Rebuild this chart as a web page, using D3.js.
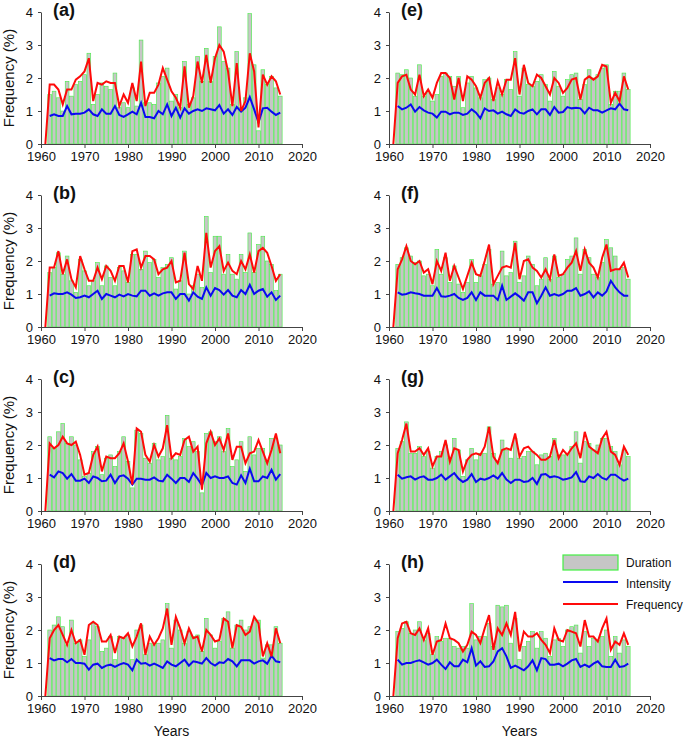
<!DOCTYPE html>
<html lang="en">
    <head>
        <meta charset="utf-8">
        <title>Duration, intensity and frequency</title>
        <script src="https://d3js.org/d3.v7.min.js"></script>
        <style type="text/css">
            body { margin: 0; background: #fff; }
            svg text { font-family: "Liberation Sans", Arial, sans-serif; fill: #111; }
            .axis path, .axis line { stroke: #444; }
            .axis text { font-size: 13px; }
        </style>
    </head>
    <body>
        <script type="text/javascript">

            const w = 685;
            const h = 741;

            // years of the bars / blue line, and of the red line (starts one year earlier at 0)
            const years = d3.range(1962, 2016);
            const freqYears = d3.range(1961, 2016);
            const xTicks = [1960, 1970, 1980, 1990, 2000, 2010, 2020];
            const yTicks = [0, 1, 2, 3, 4];
            const panelLabels = ["(a)", "(b)", "(c)", "(d)", "(e)", "(f)", "(g)", "(h)"];
            const legendLabels = ["Duration", "Intensity", "Frequency"];

            // (a)
            const durationA = [1.5,1.6,1.4,1.0,1.9,1.45,1.8,1.9,2.1,2.75,1.2,1.5,1.85,1.75,1.65,2.15,1.1,1.25,1.1,1.7,1.15,3.15,1.25,1.25,1.2,1.85,2.05,2.3,1.3,1.5,1.1,2.5,1.2,1.4,2.65,1.9,2.9,1.9,2.65,3.55,2.5,2.3,1.2,2.8,1.1,1.4,3.95,2.4,0.4,2.25,1.8,2.05,1.7,1.45];
            const intensityA = [0.85,0.9,0.85,0.85,1.15,0.9,0.92,0.92,0.95,1.05,0.9,0.85,1.05,0.92,0.92,1.15,0.88,0.82,0.9,0.98,0.9,1.25,0.82,0.82,0.78,1.0,0.9,1.2,0.85,1.1,0.8,1.08,0.92,1.0,1.05,1.0,1.08,1.05,1.02,1.18,0.92,1.05,0.88,1.12,0.98,1.1,1.42,1.05,0.65,1.08,1.1,0.98,0.88,0.95];
            const frequencyA = [0,1.8,1.8,1.65,1.2,1.65,1.65,1.95,2.05,2.2,2.6,1.3,1.85,1.8,1.9,1.85,1.85,1.15,1.5,1.25,1.85,1.3,2.5,1.15,1.55,1.55,1.8,2.3,1.95,1.6,1.4,1.1,2.35,1.1,1.45,2.5,1.85,2.7,1.85,2.6,3.0,2.8,2.2,1.15,2.45,1.0,1.3,2.75,2.2,0.5,2.1,1.8,2.05,1.9,1.5];

            // (b)
            const durationB = [1.65,1.8,2.25,1.6,2.15,1.4,1.05,2.05,1.7,1.25,1.4,1.95,1.25,1.85,1.5,1.25,1.8,1.7,1.35,2.2,2.2,1.75,2.3,1.95,2.05,1.5,1.8,1.9,2.1,1.15,1.4,2.3,1.0,1.25,1.6,1.2,3.35,1.65,2.75,2.75,1.6,2.2,1.6,1.45,2.2,1.65,2.85,1.65,2.5,2.75,2.0,1.9,1.1,1.6];
            const intensityB = [0.95,1.02,1.0,1.0,1.05,0.98,0.88,0.9,0.95,0.9,1.0,1.1,0.85,1.0,0.95,0.9,0.98,0.93,1.0,0.95,0.93,1.1,1.1,0.95,1.02,0.95,1.02,1.05,1.05,0.85,1.0,1.0,0.8,1.05,0.92,0.85,1.2,0.95,1.18,1.12,0.98,1.12,0.95,0.9,1.12,1.0,1.28,1.0,1.1,1.15,0.92,1.05,0.82,0.95];
            const frequencyB = [0,1.8,1.8,2.3,1.6,2.05,1.45,1.2,2.15,1.75,1.4,1.4,1.8,1.45,1.85,1.7,1.4,1.85,1.85,1.35,2.3,2.35,1.8,2.15,2.15,2.05,1.6,1.75,1.8,2.0,1.35,1.4,2.25,1.3,1.15,1.85,1.4,2.85,1.8,2.3,2.45,1.7,1.95,1.7,1.6,2.0,1.75,2.2,1.65,2.3,2.4,2.25,1.85,1.4,1.6];

            // (c)
            const durationC = [2.25,1.9,2.4,2.65,2.05,2.25,2.0,1.55,1.05,1.15,1.8,1.95,1.1,1.6,1.7,1.35,1.8,2.25,1.5,0.7,2.45,2.35,1.6,1.45,2.05,1.55,1.65,2.9,1.6,1.55,1.65,2.2,1.95,2.1,1.8,0.55,2.35,2.4,2.1,2.25,1.8,2.5,1.35,1.55,2.1,1.2,2.25,1.7,1.9,1.9,1.5,2.2,2.2,2.0];
            const intensityC = [1.1,1.02,1.2,1.15,0.98,1.12,0.92,0.92,0.98,0.85,1.05,1.0,0.9,0.92,1.1,0.85,1.05,1.08,0.98,0.8,0.98,0.98,0.95,0.95,1.02,0.92,0.9,1.1,0.98,0.85,1.0,1.0,0.88,1.15,0.98,0.78,1.15,1.0,1.05,1.0,1.0,1.05,0.85,0.8,1.08,0.85,1.28,0.9,0.9,1.05,1.0,1.25,0.95,1.12];
            const frequencyC = [0,2.05,1.9,2.0,2.25,2.05,2.0,2.1,1.7,1.1,1.15,1.7,1.95,1.2,1.65,1.6,1.6,1.75,2.05,1.5,0.8,2.5,2.4,1.7,1.5,2.0,1.65,1.9,2.6,1.6,1.75,1.7,2.15,2.25,1.8,1.95,0.65,2.05,2.4,2.0,2.2,1.85,2.35,1.55,1.95,1.95,1.45,1.75,1.8,2.15,1.8,1.45,1.85,2.35,1.75];

            // (d)
            const durationD = [2.0,2.15,2.4,2.1,1.55,2.3,1.6,1.7,1.2,1.7,2.2,2.1,1.35,1.45,1.8,1.1,1.8,1.75,1.85,1.1,2.0,2.15,1.25,1.6,1.55,1.6,1.7,2.8,1.45,2.3,2.0,1.6,1.95,1.8,1.85,1.35,2.35,1.85,1.45,1.65,2.35,2.55,1.45,2.15,2.3,2.0,2.1,2.3,2.3,1.15,1.55,1.55,2.1,1.6];
            const intensityD = [1.15,1.08,1.12,1.12,1.02,1.12,1.0,1.0,0.98,0.8,0.95,0.98,0.85,0.92,0.95,0.88,0.95,1.0,0.95,0.78,1.1,0.98,1.0,0.92,0.98,0.92,0.85,1.05,0.95,0.9,1.0,1.1,0.92,1.05,1.02,0.98,1.15,1.0,0.92,1.02,1.0,1.12,1.05,0.9,1.08,1.08,1.08,0.98,1.05,1.08,0.98,1.22,1.05,1.02];
            const frequencyD = [0,1.75,2.0,2.15,1.85,1.55,2.0,1.6,1.7,1.25,2.15,2.25,2.15,1.65,1.65,1.85,1.3,1.8,1.75,1.9,1.5,1.8,2.2,1.25,1.8,1.55,1.75,2.05,2.65,1.55,2.4,2.05,1.6,2.05,1.75,1.8,1.35,2.0,1.85,1.65,1.7,2.35,2.25,1.45,2.15,2.1,1.85,1.95,2.4,2.2,1.2,1.6,1.2,2.05,1.6];

            // (e)
            const durationE = [2.15,2.1,2.25,2.0,1.45,2.4,1.45,1.55,1.3,1.5,2.05,2.15,2.05,1.75,2.05,1.1,1.85,2.05,1.7,1.4,1.95,2.0,1.35,1.7,1.5,1.95,1.65,2.8,1.45,2.3,1.8,1.75,1.9,2.1,1.8,1.3,2.2,1.75,1.45,1.95,2.1,2.15,1.35,1.8,2.25,2.0,2.1,2.3,2.4,1.2,1.6,1.6,2.15,1.65];
            const intensityE = [1.15,1.05,1.1,1.2,0.98,1.12,1.02,0.95,0.92,0.8,0.98,0.98,0.9,0.95,0.95,0.88,0.92,1.05,0.95,0.78,1.08,1.0,1.02,0.92,0.98,0.9,0.85,1.05,0.95,0.92,1.0,1.05,0.9,1.05,1.05,0.88,1.12,0.95,0.97,1.12,1.08,1.1,1.08,0.93,1.1,1.02,1.02,0.95,1.02,1.08,1.05,1.22,1.05,1.02];
            const frequencyE = [0,1.85,2.05,2.1,1.65,1.5,2.1,1.45,1.65,1.4,1.85,2.15,2.15,2.0,1.35,2.0,1.3,2.05,1.95,1.75,1.4,1.85,2.0,1.3,1.9,1.5,1.95,1.95,2.6,1.5,2.4,1.85,1.75,2.1,2.0,1.75,1.5,2.0,1.85,1.55,1.7,1.95,2.0,1.35,1.95,2.05,1.95,2.05,2.4,2.35,1.25,1.55,1.3,2.05,1.65];

            // (f)
            const durationF = [1.9,2.1,2.4,2.15,1.95,2.0,1.55,1.6,1.25,2.35,1.6,2.1,1.35,1.85,1.3,1.05,1.35,2.05,1.35,1.55,1.9,2.35,1.3,1.35,2.3,1.55,1.65,2.6,1.35,1.55,2.15,1.9,1.25,1.45,2.1,1.45,2.15,1.5,1.6,2.05,2.15,2.7,1.6,2.35,2.1,1.6,1.5,1.95,2.65,2.4,2.15,1.75,1.8,1.45];
            const intensityF = [1.05,0.98,1.0,1.05,1.02,1.0,0.95,0.95,0.95,1.18,0.93,0.92,0.95,1.0,0.88,0.82,0.88,1.05,0.82,1.05,0.95,0.95,0.95,0.82,1.25,0.82,0.92,1.02,0.92,0.8,1.05,1.05,0.72,0.95,1.2,0.95,1.0,0.95,1.0,1.1,1.1,1.18,0.95,1.0,1.08,0.9,1.05,0.95,1.08,1.4,1.2,1.05,0.95,0.95];
            const frequencyF = [0,1.75,2.05,2.45,2.0,1.9,2.0,1.65,1.75,1.3,2.0,1.7,2.25,1.4,1.85,1.5,1.15,1.55,1.95,1.6,1.55,2.0,2.5,1.3,1.55,1.8,1.85,1.8,2.55,1.45,2.0,2.05,1.8,1.7,1.5,1.75,1.45,2.2,1.55,1.6,1.8,1.95,2.3,1.7,2.35,1.95,1.8,1.5,2.1,2.5,1.7,1.75,1.75,1.95,1.5];

            // (g)
            const durationG = [1.9,2.1,2.7,1.75,1.75,1.95,1.65,1.8,1.3,1.65,1.8,2.0,1.6,2.2,1.85,1.05,1.55,1.9,1.55,1.75,1.75,2.55,1.75,1.5,2.15,1.85,1.6,2.2,1.6,1.65,1.8,1.8,1.4,1.7,1.75,1.65,2.2,1.7,1.7,1.75,1.95,2.4,1.45,2.1,2.05,1.85,2.0,2.2,2.2,1.95,1.8,1.4,1.85,1.65];
            const intensityG = [1.1,0.98,1.02,1.05,0.95,1.02,1.05,0.95,0.95,1.0,1.1,0.95,1.05,1.15,0.98,0.88,0.95,1.12,0.88,0.98,0.95,1.0,1.08,0.98,1.15,0.95,0.85,0.95,0.95,0.88,0.9,1.0,0.82,1.1,1.12,1.02,1.05,1.02,0.95,0.98,1.02,1.18,0.9,0.88,1.05,1.0,1.12,1.0,0.95,1.1,1.1,1.0,0.92,0.98];
            const frequencyG = [0,1.75,2.15,2.65,1.8,1.8,1.9,1.7,1.9,1.35,1.65,1.65,2.15,1.5,1.9,1.85,1.2,1.55,1.7,1.75,1.7,1.95,2.55,1.65,1.45,1.85,1.9,1.85,2.35,1.65,1.9,1.95,1.8,1.7,1.55,1.55,1.65,2.15,1.6,1.85,1.7,1.9,2.05,1.6,2.4,1.95,1.85,1.75,2.2,2.4,1.8,1.7,1.4,1.95,1.7];

            // (h)
            const durationH = [1.95,2.05,2.25,1.9,2.0,2.25,1.7,1.9,1.25,1.8,1.65,1.75,1.75,1.5,1.45,1.5,1.45,2.8,1.7,1.8,1.8,2.2,1.5,2.75,2.7,2.75,1.6,2.35,1.1,1.5,1.65,1.95,1.45,1.95,1.75,1.2,1.7,1.75,1.5,2.0,2.1,2.15,1.3,1.95,1.5,1.75,1.7,1.8,2.0,1.2,1.8,1.3,1.7,1.5];
            const intensityH = [1.1,0.95,1.0,1.0,1.05,1.08,1.02,0.95,1.0,1.1,0.95,0.82,1.02,0.9,0.9,1.1,1.02,1.45,0.92,1.05,0.88,0.9,1.05,1.35,1.45,1.2,0.85,0.92,0.85,0.78,0.9,1.08,0.78,1.15,1.12,0.95,0.95,0.98,0.9,0.98,1.08,1.12,0.88,0.95,0.88,0.98,1.05,0.9,0.88,0.88,1.1,0.88,0.9,0.98];
            const frequencyH = [0,1.75,2.2,2.25,1.9,1.85,2.05,1.7,2.05,1.25,1.65,1.7,2.2,1.75,1.7,1.6,1.35,1.55,1.95,1.85,1.6,2.05,2.45,1.4,2.05,1.85,2.2,1.85,2.55,1.35,1.95,1.8,1.8,1.9,1.7,1.55,1.3,2.05,1.7,1.65,2.0,1.95,1.9,1.5,2.3,1.8,1.8,1.65,2.05,2.35,1.4,1.65,1.55,1.9,1.55];

            const panels = [
                {label: panelLabels[0], col: 0, row: 0, dur: durationA, int: intensityA, freq: frequencyA},
                {label: panelLabels[1], col: 0, row: 1, dur: durationB, int: intensityB, freq: frequencyB},
                {label: panelLabels[2], col: 0, row: 2, dur: durationC, int: intensityC, freq: frequencyC},
                {label: panelLabels[3], col: 0, row: 3, dur: durationD, int: intensityD, freq: frequencyD},
                {label: panelLabels[4], col: 1, row: 0, dur: durationE, int: intensityE, freq: frequencyE},
                {label: panelLabels[5], col: 1, row: 1, dur: durationF, int: intensityF, freq: frequencyF},
                {label: panelLabels[6], col: 1, row: 2, dur: durationG, int: intensityG, freq: frequencyG},
                {label: panelLabels[7], col: 1, row: 3, dur: durationH, int: intensityH, freq: frequencyH}
            ];

            // layout
            const pw = 261, ph = 132;
            const colX = [41, 389];
            const rowY = [12, 195, 379, 564];

            const xScale = d3.scaleLinear().domain([1960, 2020]).range([0, pw]);
            const yScale = d3.scaleLinear().domain([0, 4]).range([ph, 0]);
            const bw = (xScale(1961) - xScale(1960)) * 0.86;

            const svg = d3.select("body")
                          .append("svg")
                          .attr("width", w)
                          .attr("height", h);

            const line = d3.line()
                           .x(d => xScale(d.year))
                           .y(d => yScale(d.value));

            panels.forEach(p => {
                const g = svg.append("g")
                             .attr("transform", `translate(${colX[p.col]},${rowY[p.row]})`);

                g.selectAll("rect.bar")
                 .data(p.dur.map((v, i) => ({year: years[i], value: v})))
                 .enter()
                 .append("rect")
                 .attr("class", "bar")
                 .attr("x", d => xScale(d.year) - bw / 2)
                 .attr("y", d => yScale(d.value))
                 .attr("width", bw)
                 .attr("height", d => yScale(0) - yScale(d.value))
                 .style("fill", "#c6c6c6")
                 .style("stroke", "#44ee44")
                 .style("stroke-width", 0.6);

                g.append("path")
                 .datum(p.int.map((v, i) => ({year: years[i], value: v})))
                 .attr("d", line)
                 .style("fill", "none")
                 .style("stroke", "#0a0af0")
                 .style("stroke-width", 2);

                g.append("path")
                 .datum(p.freq.map((v, i) => ({year: freqYears[i], value: v})))
                 .attr("d", line)
                 .style("fill", "none")
                 .style("stroke", "#ff0a0a")
                 .style("stroke-width", 2);

                g.append("g")
                 .attr("class", "axis")
                 .attr("transform", `translate(0,${ph})`)
                 .call(d3.axisBottom(xScale).tickValues(xTicks).tickFormat(d3.format("d"))
                         .tickSize(4).tickSizeOuter(0).tickPadding(4));

                g.append("g")
                 .attr("class", "axis")
                 .call(d3.axisLeft(yScale).tickValues(yTicks).tickFormat(d3.format("d"))
                         .tickSize(3).tickSizeOuter(0).tickPadding(5));

                g.append("text")
                 .attr("x", 12)
                 .attr("y", 4)
                 .style("font-size", "18px")
                 .style("font-weight", "bold")
                 .text(p.label);

                if (p.col === 0) {
                    svg.append("text")
                       .attr("transform", `translate(14,${rowY[p.row] + ph / 2}) rotate(-90)`)
                       .style("text-anchor", "middle")
                       .style("font-size", "15px")
                       .text("Frequency (%)");
                }
                if (p.row === 3) {
                    svg.append("text")
                       .attr("x", colX[p.col] + pw / 2)
                       .attr("y", 736)
                       .style("text-anchor", "middle")
                       .style("font-size", "14px")
                       .text("Years");
                }
            });

            // legend (inside panel h)
            const lx = 563, ly = 555;
            svg.append("rect")
               .attr("x", lx).attr("y", ly)
               .attr("width", 55).attr("height", 15)
               .style("fill", "#c6c6c6")
               .style("stroke", "#44ee44")
               .style("stroke-width", 1.2);
            svg.append("line")
               .attr("x1", lx).attr("x2", lx + 55)
               .attr("y1", ly + 27).attr("y2", ly + 27)
               .style("stroke", "#0a0af0").style("stroke-width", 2);
            svg.append("line")
               .attr("x1", lx).attr("x2", lx + 55)
               .attr("y1", ly + 49).attr("y2", ly + 49)
               .style("stroke", "#ff0a0a").style("stroke-width", 2);

            svg.selectAll("text.legend")
               .data(legendLabels)
               .enter()
               .append("text")
               .attr("class", "legend")
               .attr("x", lx + 63)
               .attr("y", (d, i) => ly + 12 + i * 20.8)
               .style("font-size", "12px")
               .text(d => d);

        </script>
    </body>
</html>
